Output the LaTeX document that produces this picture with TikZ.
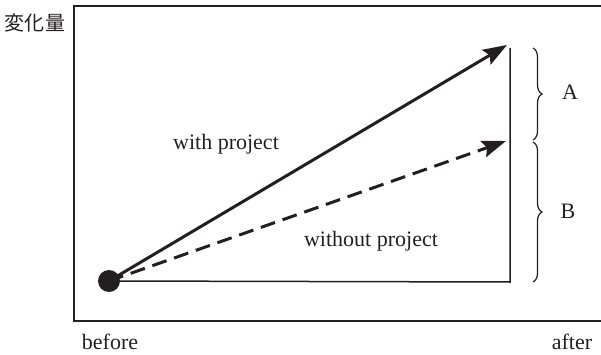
\documentclass[tikz,border=0pt]{standalone}
\usepackage{fontspec}
\setmainfont{Liberation Serif}
\newfontfamily\cjk{Noto Sans CJK JP}
\usetikzlibrary{arrows.meta,decorations.pathreplacing}
\definecolor{ink}{HTML}{231F20}
\tikzset{
  lbl/.style={font=\fontsize{22}{24}\selectfont, text=ink, anchor=base, inner sep=0pt},
  frameline/.style={draw=ink, line width=1.5pt},
  growth/.style={draw=ink, line width=3pt, -{Stealth[length=24pt,width=17pt,inset=4pt]}},
  bracket/.style={draw=ink, line width=1.2pt, decorate, decoration={brace, amplitude=9pt}},
}
\begin{document}
\begin{tikzpicture}[x=1pt, y=-1pt]
\useasboundingbox (0,0) rectangle (601,355);
% outer frame (open on the right)
\draw[frameline] (601,6) -- (74,6) -- (74,321) -- (601,321);
% named points
\coordinate (start) at (109,281);
\coordinate (corner) at (510,282);
\coordinate (top) at (510,48);
\coordinate (tipw) at (507,45);
\coordinate (tipwo) at (506,141);
% baseline and vertical reference
\draw[frameline] (start) -- (corner) -- (top);
% scenario arrows
\draw[growth] (start) -- (tipw);
\draw[growth, dash pattern=on 15pt off 8pt] (start) -- (tipwo);
\fill[ink] (start) circle (11pt);
% braces for the two components
\coordinate (ba1) at (533,48);
\coordinate (ba2) at (533,140);
\coordinate (bb1) at (533,142);
\coordinate (bb2) at (533,282);
\draw[bracket] (ba1) -- (ba2);
\draw[bracket] (bb1) -- (bb2);
% labels
\node[lbl] (la) at (570,100) {A};
\node[lbl] (lb) at (568,218) {B};
\node[lbl] (lw) at (226,150) {with project};
\node[lbl] (lwo) at (371,246) {without project};
\node[lbl] (lbefore) at (110,349) {before};
\node[lbl] (lafter) at (572,349) {after};
\node[font=\cjk\fontsize{20}{22}\selectfont, text=ink, inner sep=0pt] (ly) at (35,23) {変化量};
\end{tikzpicture}
\end{document}
